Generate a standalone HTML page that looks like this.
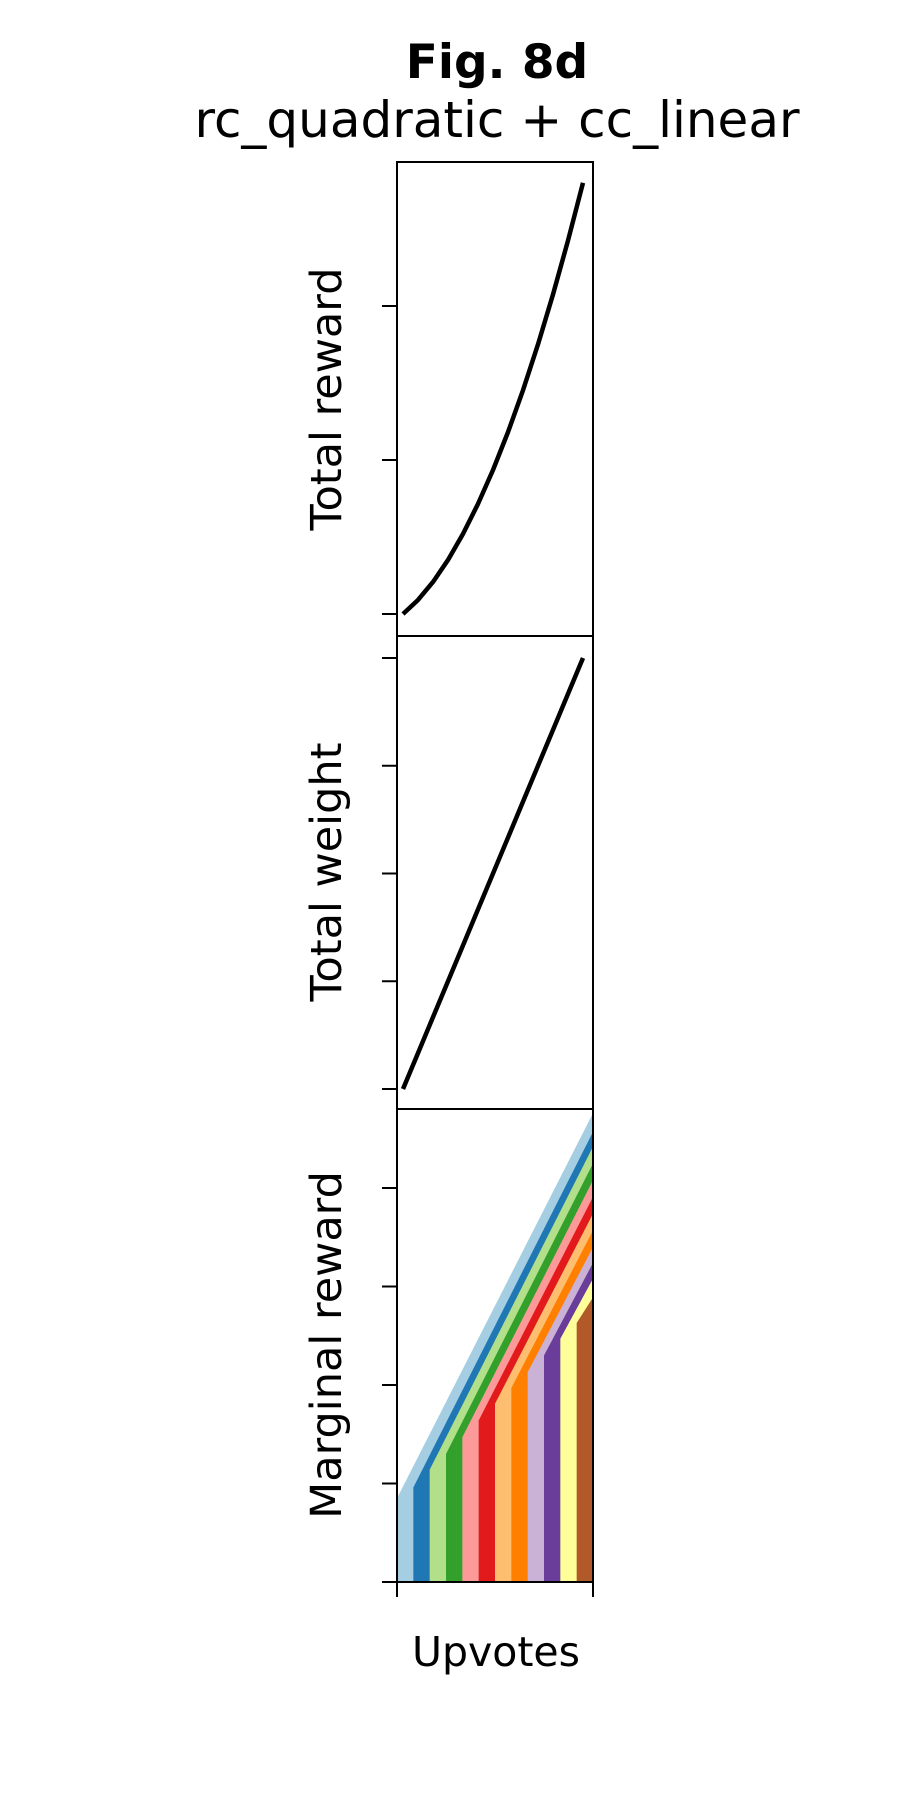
<!DOCTYPE html>
<html><head><meta charset="utf-8"><style>
html,body{margin:0;padding:0;background:#fff;}
svg{display:block;font-family:"DejaVu Sans","Liberation Sans",sans-serif;}
</style></head><body>
<svg id="chart" width="900" height="1800" viewBox="0 0 900 1800">
<text x="497" y="78" text-anchor="middle" font-size="47" font-weight="bold">Fig. 8d</text>
<text x="497" y="137" text-anchor="middle" font-size="50">rc_quadratic + cc_linear</text>
<text transform="translate(341,399) rotate(-90)" text-anchor="middle" font-size="43">Total reward</text>
<text transform="translate(341,872) rotate(-90)" text-anchor="middle" font-size="43">Total weight</text>
<text transform="translate(341,1345) rotate(-90)" text-anchor="middle" font-size="43">Marginal reward</text>
<text x="496" y="1666" text-anchor="middle" font-size="41">Upvotes</text>
<g id="plots"></g>
</svg>
<script>
const upvotes = [0,1,2,3,4,5,6,7,8,9,10,11,12];
const totalReward = [0,0.091,0.208,0.351,0.52,0.715,0.935,1.181,1.453,1.751,2.075,2.425,2.8];
const totalWeight = [0,0.333,0.667,1,1.333,1.667,2,2.333,2.667,3,3.333,3.667,4];
const rewardTicks = [0,1,2];
const weightTicks = [0,1,2,3,4];
const marginalTicks = [0,1,2,3,4];
const bandStartTop = [0.85,0.96,1.14,1.30,1.47,1.64,1.81,1.97,2.13,2.30,2.47,2.63];
const bandEndTop = [4.76,4.57,4.42,4.25,4.08,3.91,3.74,3.57,3.40,3.24,3.08,2.89];
const bandColors = ["#a6cee3","#1f78b4","#b2df8a","#33a02c","#fb9a99","#e31a1c","#fdbf6f","#ff7f00","#cab2d6","#6a3d9a","#ffff99","#b15928"];

const NS="http://www.w3.org/2000/svg";
const g=document.getElementById('plots');
function mk(tag,attrs){const e=document.createElementNS(NS,tag);for(const k in attrs)e.setAttribute(k,attrs[k]);g.appendChild(e);return e;}
const L=397,R=593;
const xLine=n=>403+(n/12)*180;
const xBand=n=>L+(n/12)*(R-L);
const yR=v=>614-v*154;
const yW=v=>1089-v*107.75;
const yM=v=>1582-v*98.5;

for(let i=0;i<bandColors.length;i++){
  const x0=xBand(upvotes[i]), x1=xBand(upvotes[12]);
  const p=mk('polygon',{points:`${x0},${yM(0)} ${x0},${yM(bandStartTop[i])} ${x1},${yM(bandEndTop[i])} ${x1},${yM(0)}`,fill:bandColors[i]});
  
  
}
let d1=upvotes.map((n,i)=>(i?'L':'M')+xLine(n)+','+yR(totalReward[i])).join(' ');
const l1=mk('path',{d:d1,fill:'none',stroke:'#000','stroke-width':4.5,'stroke-linejoin':'round'});


let d2=upvotes.map((n,i)=>(i?'L':'M')+xLine(n)+','+yW(totalWeight[i])).join(' ');
const l2=mk('path',{d:d2,fill:'none',stroke:'#000','stroke-width':4.5});


const frames=[[162,636,'reward'],[636,1109,'weight'],[1109,1582,'marginal']];
for(const f of frames){
  const r=mk('rect',{x:L,y:f[0],width:R-L,height:f[1]-f[0],fill:'none',stroke:'#000','stroke-width':2});
  
  
}
function ticks(arr,fy,nm){for(const v of arr){const t=mk('line',{x1:L-15,x2:L,y1:fy(v),y2:fy(v),stroke:'#000','stroke-width':2});
  
  }}
ticks(rewardTicks,yR,'reward-y');
ticks(weightTicks,yW,'weight-y');
ticks(marginalTicks,yM,'marginal-y');
for(const x of [L,R]){const t=mk('line',{x1:x,x2:x,y1:1582,y2:1597,stroke:'#000','stroke-width':2});
  
  }
</script>
</body></html>
